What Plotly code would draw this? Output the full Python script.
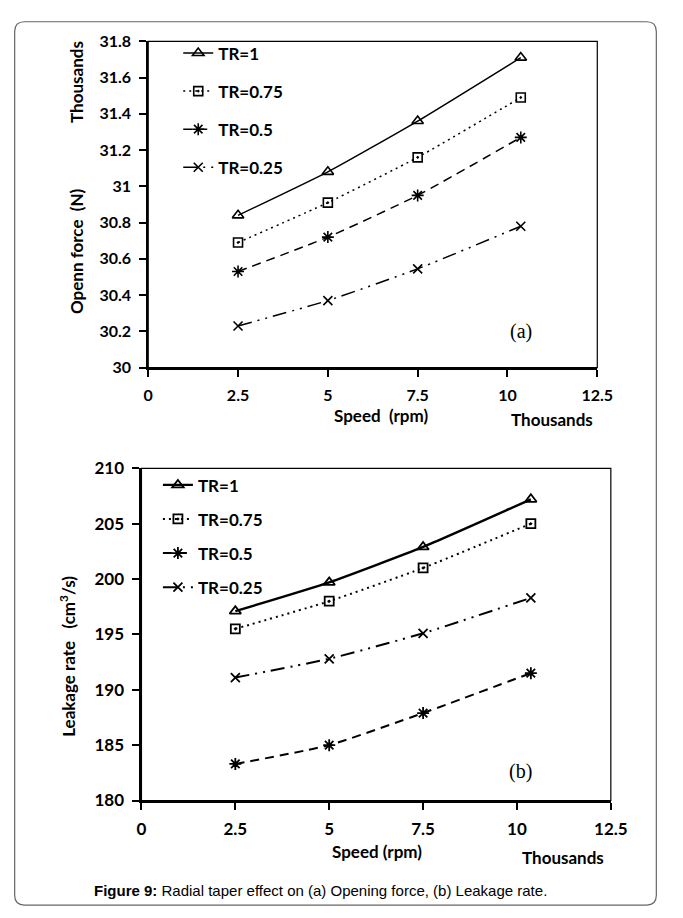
import plotly.graph_objects as go

W, H = 683, 918

# ---------------- data ----------------
speed_k = [2.5, 5.0, 7.5, 10.37]          # speed, thousands rpm
series_names = ["TR=1", "TR=0.75", "TR=0.5", "TR=0.25"]

# (a) Opening force, thousands N
force_tr1 = [30.84, 31.08, 31.36, 31.71]
force_tr075 = [30.69, 30.91, 31.16, 31.49]
force_tr05 = [30.53, 30.72, 30.95, 31.27]
force_tr025 = [30.23, 30.37, 30.545, 30.78]

# (b) Leakage rate, cm3/s
leak_tr1 = [197.1, 199.7, 202.9, 207.2]
leak_tr075 = [195.5, 198.0, 201.0, 205.0]
leak_tr05 = [183.3, 185.0, 187.9, 191.5]
leak_tr025 = [191.1, 192.8, 195.1, 198.3]

x_ticks = [0, 2.5, 5, 7.5, 10, 12.5]
x_ticktext = ["0", "2.5", "5", "7.5", "10", "12.5"]
force_ticks = [30, 30.2, 30.4, 30.6, 30.8, 31, 31.2, 31.4, 31.6, 31.8]
force_ticktext = ["30", "30.2", "30.4", "30.6", "30.8", "31", "31.2", "31.4", "31.6", "31.8"]
leak_ticks = [180, 185, 190, 195, 200, 205, 210]
leak_ticktext = ["180", "185", "190", "195", "200", "205", "210"]

# ---------------- styles ----------------
dashes = ["solid", "2px,4px", "9px,6px", "14px,6px,2px,6px,2px,6px"]
symbols = ["triangle-up-open", "square-open-dot", "asterisk-open", "x-thin-open"]
msizes = [10, 9, 10, 9]

FONT = "Lato"


def px(x):
    return x / W


def py(y):
    return 1 - y / H


fig = go.Figure()

force_sets = [force_tr1, force_tr075, force_tr05, force_tr025]
leak_sets = [leak_tr1, leak_tr075, leak_tr05, leak_tr025]

for i, (name, vals) in enumerate(zip(series_names, force_sets)):
    fig.add_trace(go.Scatter(
        x=speed_k, y=vals, name=name, mode="lines+markers",
        xaxis="x", yaxis="y", legend="legend", legendgroup="a" + str(i),
        line=dict(color="black", width=1.5, dash=dashes[i], shape="spline", smoothing=0.5),
        marker=dict(symbol=symbols[i], size=msizes[i], color="black",
                    line=dict(color="black", width=1.6)),
    ))

for i, (name, vals) in enumerate(zip(series_names, leak_sets)):
    fig.add_trace(go.Scatter(
        x=speed_k, y=vals, name=name, mode="lines+markers",
        xaxis="x2", yaxis="y2", legend="legend2", legendgroup="b" + str(i),
        line=dict(color="black", width=2.4 if i == 0 else 2, dash=dashes[i], shape="spline", smoothing=0.5),
        marker=dict(symbol=symbols[i], size=msizes[i], color="black",
                    line=dict(color="black", width=1.8)),
    ))

axis_common = dict(
    showline=True, linecolor="black", linewidth=2,
    ticks="outside", ticklen=7, tickwidth=1.5, tickcolor="black",
    showgrid=False, zeroline=False, fixedrange=True,
)

fig.update_layout(
    width=W, height=H,
    margin=dict(l=0, r=0, t=0, b=0),
    paper_bgcolor="white", plot_bgcolor="white",
    font=dict(family=FONT, color="black"),
    xaxis=dict(domain=[px(148), px(612)], range=[0, 12.5], anchor="y",
               tickvals=x_ticks, ticktext=x_ticktext, ticklabelstandoff=5,
               tickfont=dict(family=FONT, size=16, weight="bold", color="black"),
               **axis_common),
    yaxis=dict(domain=[py(365), py(31)], range=[30, 31.8], anchor="x",
               tickvals=force_ticks, ticktext=force_ticktext, ticklabelstandoff=5,
               tickfont=dict(family=FONT, size=16, weight="bold", color="black"),
               **axis_common),
    xaxis2=dict(domain=[px(141), px(626)], range=[0, 12.5], anchor="y2",
                tickvals=x_ticks, ticktext=x_ticktext, ticklabelstandoff=5,
                tickfont=dict(family=FONT, size=17, weight="bold", color="black"),
                **axis_common),
    yaxis2=dict(domain=[py(808), py(468)], range=[180, 210], anchor="x2",
                tickvals=leak_ticks, ticktext=leak_ticktext, ticklabelstandoff=5,
                tickfont=dict(family=FONT, size=17, weight="bold", color="black"),
                **axis_common),
    legend=dict(x=px(179), y=py(25), xanchor="left", yanchor="top",
                bgcolor="rgba(0,0,0,0)", borderwidth=0, tracegroupgap=13,
                font=dict(family=FONT, size=17, weight="bold", color="black"),
                itemwidth=30),
    legend2=dict(x=px(158), y=py(467), xanchor="left", yanchor="top",
                 bgcolor="rgba(0,0,0,0)", borderwidth=0, tracegroupgap=9,
                 font=dict(family=FONT, size=17, weight="bold", color="black"),
                 itemwidth=30),
    showlegend=True,
)

# plot-area borders
for xr, yr in (("x domain", "y domain"), ("x2 domain", "y2 domain")):
    fig.add_shape(type="rect", xref=xr, yref=yr, x0=0, x1=1, y0=0, y1=1,
                  line=dict(color="black", width=1.2), layer="below")

# outer rounded frame (pixel corners converted to paper coordinates)
fx0, fy0, fx1, fy1, rr = 10, 11, 673, 915, 10
pts = [
    ("M", fx0 + rr, fy0), ("L", fx1 - rr, fy0), ("Q", fx1, fy0, fx1, fy0 + rr),
    ("L", fx1, fy1 - rr), ("Q", fx1, fy1, fx1 - rr, fy1), ("L", fx0 + rr, fy1),
    ("Q", fx0, fy1, fx0, fy1 - rr), ("L", fx0, fy0 + rr), ("Q", fx0, fy0, fx0 + rr, fy0),
]
segs = []
for p in pts:
    cmd, coords = p[0], p[1:]
    pairs = [f"{px(coords[k])},{py(coords[k + 1])}" for k in range(0, len(coords), 2)]
    segs.append(cmd + " " + " ".join(pairs))
fig.add_shape(type="path", xref="paper", yref="paper", path=" ".join(segs) + " Z",
              line=dict(color="#666666", width=1.2))

NB = "\u00a0"


def ann(text, x, y, size, angle=0, family=FONT, bold=True):
    fig.add_annotation(
        text=text, x=px(x), y=py(y), xref="paper", yref="paper",
        showarrow=False, textangle=angle, xanchor="center", yanchor="middle",
        font=dict(family=family, size=size, color="black", weight="bold" if bold else "normal"),
    )


# (a) labels
ann("Thousands", 74, 73, 17, -90)
ann("Openn force" + NB + NB + "(N)", 74, 246, 17, -90)
ann("Speed" + NB + NB + "(rpm)", 388, 414, 17)
ann("Thousands", 565, 418, 17)
ann("(a)", 533, 328, 20, family="Liberation Serif", bold=False)

# (b) labels
ann("Leakage rate" + NB + NB + NB + "(cm<sup>3</sup>/s)", 65, 660, 17, -90)
ann("Speed (rpm)", 384, 860, 17)
ann("Thousands", 577, 866, 17)
ann("(b)", 533, 778, 20, family="Liberation Serif", bold=False)

# caption
fig.add_annotation(
    text="<b>Figure 9:</b> Radial taper effect on (a) Opening force, (b) Leakage rate.",
    x=px(326), y=py(900), xref="paper", yref="paper", showarrow=False,
    xanchor="center", yanchor="middle",
    font=dict(family="Liberation Sans", size=15, color="black"),
)

fig.write_html("out.html")
